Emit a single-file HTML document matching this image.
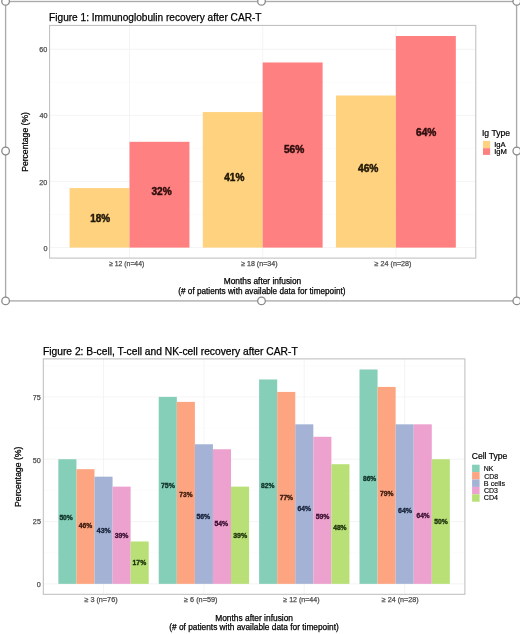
<!DOCTYPE html>
<html><head><meta charset="utf-8"><title>Figures</title>
<style>
html,body{margin:0;padding:0;background:#fff;}
body{width:520px;height:634px;overflow:hidden;font-family:"Liberation Sans",sans-serif;}
#w{width:520px;height:634px;will-change:transform;background:#fff;}
svg{display:block;}
</style></head><body><div id="w">
<svg width="520" height="634" viewBox="0 0 520 634">
<line x1="49.6" x2="475.8" y1="214.54" y2="214.54" stroke="#f9f9f9" stroke-width="0.6"/>
<line x1="49.6" x2="475.8" y1="148.42" y2="148.42" stroke="#f9f9f9" stroke-width="0.6"/>
<line x1="49.6" x2="475.8" y1="82.30" y2="82.30" stroke="#f9f9f9" stroke-width="0.6"/>
<line x1="49.6" x2="475.8" y1="247.60" y2="247.60" stroke="#f3f3f3" stroke-width="0.9"/>
<line x1="49.6" x2="475.8" y1="181.48" y2="181.48" stroke="#f3f3f3" stroke-width="0.9"/>
<line x1="49.6" x2="475.8" y1="115.36" y2="115.36" stroke="#f3f3f3" stroke-width="0.9"/>
<line x1="49.6" x2="475.8" y1="49.24" y2="49.24" stroke="#f3f3f3" stroke-width="0.9"/>
<line x1="129.51" x2="129.51" y1="25.4" y2="258.1" stroke="#f3f3f3" stroke-width="0.9"/>
<line x1="262.70" x2="262.70" y1="25.4" y2="258.1" stroke="#f3f3f3" stroke-width="0.9"/>
<line x1="395.89" x2="395.89" y1="25.4" y2="258.1" stroke="#f3f3f3" stroke-width="0.9"/>
<rect x="69.58" y="188.09" width="59.93" height="59.51" fill="#fed27f"/>
<rect x="129.51" y="141.81" width="59.93" height="105.79" fill="#ff8080"/>
<rect x="202.77" y="112.05" width="59.93" height="135.55" fill="#fed27f"/>
<rect x="262.70" y="62.46" width="59.93" height="185.14" fill="#ff8080"/>
<rect x="335.95" y="95.52" width="59.93" height="152.08" fill="#fed27f"/>
<rect x="395.89" y="36.02" width="59.93" height="211.58" fill="#ff8080"/>
<rect x="49.6" y="25.4" width="426.20" height="232.70" fill="none" stroke="#bcbcbc" stroke-width="1"/>
<line x1="43.3" x2="464.9" y1="552.69" y2="552.69" stroke="#f9f9f9" stroke-width="0.6"/>
<line x1="43.3" x2="464.9" y1="490.38" y2="490.38" stroke="#f9f9f9" stroke-width="0.6"/>
<line x1="43.3" x2="464.9" y1="428.06" y2="428.06" stroke="#f9f9f9" stroke-width="0.6"/>
<line x1="43.3" x2="464.9" y1="365.75" y2="365.75" stroke="#f9f9f9" stroke-width="0.6"/>
<line x1="43.3" x2="464.9" y1="583.85" y2="583.85" stroke="#f3f3f3" stroke-width="0.9"/>
<line x1="43.3" x2="464.9" y1="521.54" y2="521.54" stroke="#f3f3f3" stroke-width="0.9"/>
<line x1="43.3" x2="464.9" y1="459.22" y2="459.22" stroke="#f3f3f3" stroke-width="0.9"/>
<line x1="43.3" x2="464.9" y1="396.91" y2="396.91" stroke="#f3f3f3" stroke-width="0.9"/>
<line x1="103.53" x2="103.53" y1="358.9" y2="594.3" stroke="#f3f3f3" stroke-width="0.9"/>
<line x1="203.91" x2="203.91" y1="358.9" y2="594.3" stroke="#f3f3f3" stroke-width="0.9"/>
<line x1="304.29" x2="304.29" y1="358.9" y2="594.3" stroke="#f3f3f3" stroke-width="0.9"/>
<line x1="404.67" x2="404.67" y1="358.9" y2="594.3" stroke="#f3f3f3" stroke-width="0.9"/>
<rect x="58.36" y="459.22" width="18.07" height="124.63" fill="#85ceb7"/>
<rect x="76.43" y="469.19" width="18.07" height="114.66" fill="#fda481"/>
<rect x="94.49" y="476.67" width="18.07" height="107.18" fill="#a4b3d5"/>
<rect x="112.56" y="486.64" width="18.07" height="97.21" fill="#eca1cf"/>
<rect x="130.63" y="541.48" width="18.07" height="42.37" fill="#b8e076"/>
<rect x="158.74" y="396.91" width="18.07" height="186.94" fill="#85ceb7"/>
<rect x="176.81" y="401.89" width="18.07" height="181.96" fill="#fda481"/>
<rect x="194.88" y="444.26" width="18.07" height="139.59" fill="#a4b3d5"/>
<rect x="212.94" y="449.25" width="18.07" height="134.60" fill="#eca1cf"/>
<rect x="231.01" y="486.64" width="18.07" height="97.21" fill="#b8e076"/>
<rect x="259.12" y="379.46" width="18.07" height="204.39" fill="#85ceb7"/>
<rect x="277.19" y="391.92" width="18.07" height="191.93" fill="#fda481"/>
<rect x="295.26" y="424.32" width="18.07" height="159.53" fill="#a4b3d5"/>
<rect x="313.32" y="436.79" width="18.07" height="147.06" fill="#eca1cf"/>
<rect x="331.39" y="464.21" width="18.07" height="119.64" fill="#b8e076"/>
<rect x="359.50" y="369.49" width="18.07" height="214.36" fill="#85ceb7"/>
<rect x="377.57" y="386.93" width="18.07" height="196.92" fill="#fda481"/>
<rect x="395.64" y="424.32" width="18.07" height="159.53" fill="#a4b3d5"/>
<rect x="413.71" y="424.32" width="18.07" height="159.53" fill="#eca1cf"/>
<rect x="431.77" y="459.22" width="18.07" height="124.63" fill="#b8e076"/>
<rect x="43.3" y="358.9" width="421.60" height="235.40" fill="none" stroke="#bcbcbc" stroke-width="1"/>
<rect x="483" y="140.9" width="7.1" height="7.3" fill="#fed27f"/>
<rect x="483" y="148.2" width="7.1" height="6.7" fill="#ff8080"/>
<rect x="472.1" y="464.70" width="7.5" height="7.4" fill="#85ceb7"/>
<rect x="472.1" y="472.10" width="7.5" height="7.4" fill="#fda481"/>
<rect x="472.1" y="479.50" width="7.5" height="7.4" fill="#a4b3d5"/>
<rect x="472.1" y="486.90" width="7.5" height="7.4" fill="#eca1cf"/>
<rect x="472.1" y="494.30" width="7.5" height="7.4" fill="#b8e076"/>
<text x="49.09" y="20.88" font-family="Liberation Sans, sans-serif" font-size="10.30" font-weight="normal" fill="#000" stroke="#000" stroke-width="0.25" textLength="212.44" lengthAdjust="spacingAndGlyphs">Figure 1: Immunoglobulin recovery after CAR-T</text>
<text x="42.96" y="354.85" font-family="Liberation Sans, sans-serif" font-size="10.30" font-weight="normal" fill="#000" stroke="#000" stroke-width="0.25" textLength="254.70" lengthAdjust="spacingAndGlyphs">Figure 2: B-cell, T-cell and NK-cell recovery after CAR-T</text>
<text x="43.44" y="250.73" font-family="Liberation Sans, sans-serif" font-size="7.20" font-weight="normal" fill="#4d4d4d" stroke="#4d4d4d" stroke-width="0.25" textLength="4.00" lengthAdjust="spacingAndGlyphs">0</text>
<text x="39.21" y="184.84" font-family="Liberation Sans, sans-serif" font-size="7.20" font-weight="normal" fill="#4d4d4d" stroke="#4d4d4d" stroke-width="0.25" textLength="8.01" lengthAdjust="spacingAndGlyphs">20</text>
<text x="39.56" y="118.35" font-family="Liberation Sans, sans-serif" font-size="7.20" font-weight="normal" fill="#4d4d4d" stroke="#4d4d4d" stroke-width="0.25" textLength="8.01" lengthAdjust="spacingAndGlyphs">40</text>
<text x="39.25" y="51.69" font-family="Liberation Sans, sans-serif" font-size="7.20" font-weight="normal" fill="#4d4d4d" stroke="#4d4d4d" stroke-width="0.25" textLength="8.01" lengthAdjust="spacingAndGlyphs">60</text>
<text x="36.74" y="587.04" font-family="Liberation Sans, sans-serif" font-size="7.20" font-weight="normal" fill="#4d4d4d" stroke="#4d4d4d" stroke-width="0.25" textLength="4.00" lengthAdjust="spacingAndGlyphs">0</text>
<text x="32.88" y="524.18" font-family="Liberation Sans, sans-serif" font-size="7.20" font-weight="normal" fill="#4d4d4d" stroke="#4d4d4d" stroke-width="0.25" textLength="8.01" lengthAdjust="spacingAndGlyphs">25</text>
<text x="32.74" y="463.17" font-family="Liberation Sans, sans-serif" font-size="7.20" font-weight="normal" fill="#4d4d4d" stroke="#4d4d4d" stroke-width="0.25" textLength="8.01" lengthAdjust="spacingAndGlyphs">50</text>
<text x="32.76" y="399.92" font-family="Liberation Sans, sans-serif" font-size="7.20" font-weight="normal" fill="#4d4d4d" stroke="#4d4d4d" stroke-width="0.25" textLength="8.01" lengthAdjust="spacingAndGlyphs">75</text>
<text x="109.17" y="265.50" font-family="Liberation Sans, sans-serif" font-size="7.10" font-weight="normal" fill="#4d4d4d" stroke="#4d4d4d" stroke-width="0.25" textLength="35.10" lengthAdjust="spacingAndGlyphs">≥ 12 (n=44)</text>
<text x="241.18" y="265.51" font-family="Liberation Sans, sans-serif" font-size="7.10" font-weight="normal" fill="#4d4d4d" stroke="#4d4d4d" stroke-width="0.25" textLength="36.38" lengthAdjust="spacingAndGlyphs">≥ 18 (n=34)</text>
<text x="374.62" y="265.69" font-family="Liberation Sans, sans-serif" font-size="7.10" font-weight="normal" fill="#4d4d4d" stroke="#4d4d4d" stroke-width="0.25" textLength="36.84" lengthAdjust="spacingAndGlyphs">≥ 24 (n=28)</text>
<text x="84.40" y="602.03" font-family="Liberation Sans, sans-serif" font-size="7.10" font-weight="normal" fill="#4d4d4d" stroke="#4d4d4d" stroke-width="0.25" textLength="33.19" lengthAdjust="spacingAndGlyphs">≥ 3 (n=76)</text>
<text x="184.10" y="601.68" font-family="Liberation Sans, sans-serif" font-size="7.10" font-weight="normal" fill="#4d4d4d" stroke="#4d4d4d" stroke-width="0.25" textLength="33.30" lengthAdjust="spacingAndGlyphs">≥ 6 (n=59)</text>
<text x="283.31" y="601.73" font-family="Liberation Sans, sans-serif" font-size="7.10" font-weight="normal" fill="#4d4d4d" stroke="#4d4d4d" stroke-width="0.25" textLength="36.28" lengthAdjust="spacingAndGlyphs">≥ 12 (n=44)</text>
<text x="381.80" y="601.93" font-family="Liberation Sans, sans-serif" font-size="7.10" font-weight="normal" fill="#4d4d4d" stroke="#4d4d4d" stroke-width="0.25" textLength="36.82" lengthAdjust="spacingAndGlyphs">≥ 24 (n=28)</text>
<text x="223.72" y="284.21" font-family="Liberation Sans, sans-serif" font-size="8.40" font-weight="normal" fill="#000" stroke="#000" stroke-width="0.25" textLength="77.52" lengthAdjust="spacingAndGlyphs">Months after infusion</text>
<text x="178.29" y="294.48" font-family="Liberation Sans, sans-serif" font-size="8.40" font-weight="normal" fill="#000" stroke="#000" stroke-width="0.25" textLength="167.25" lengthAdjust="spacingAndGlyphs">(# of patients with available data for timepoint)</text>
<text x="215.17" y="620.56" font-family="Liberation Sans, sans-serif" font-size="8.40" font-weight="normal" fill="#000" stroke="#000" stroke-width="0.25" textLength="77.89" lengthAdjust="spacingAndGlyphs">Months after infusion</text>
<text x="169.26" y="629.93" font-family="Liberation Sans, sans-serif" font-size="8.40" font-weight="normal" fill="#000" stroke="#000" stroke-width="0.25" textLength="169.53" lengthAdjust="spacingAndGlyphs">(# of patients with available data for timepoint)</text>
<text transform="translate(28.13,171.83) rotate(-90)" x="0" y="0" font-family="Liberation Sans, sans-serif" font-size="8.50" font-weight="normal" fill="#000" stroke="#000" stroke-width="0.25" textLength="59.76" lengthAdjust="spacingAndGlyphs">Percentage (%)</text>
<text transform="translate(21.23,506.99) rotate(-90)" x="0" y="0" font-family="Liberation Sans, sans-serif" font-size="8.50" font-weight="normal" fill="#000" stroke="#000" stroke-width="0.25" textLength="60.42" lengthAdjust="spacingAndGlyphs">Percentage (%)</text>
<text x="481.97" y="135.99" font-family="Liberation Sans, sans-serif" font-size="8.40" font-weight="normal" fill="#000" stroke="#000" stroke-width="0.2" textLength="28.07" lengthAdjust="spacingAndGlyphs">Ig Type</text>
<text x="494.15" y="146.78" font-family="Liberation Sans, sans-serif" font-size="7.20" font-weight="normal" fill="#000" stroke="#000" stroke-width="0.2" textLength="11.34" lengthAdjust="spacingAndGlyphs">IgA</text>
<text x="494.26" y="153.96" font-family="Liberation Sans, sans-serif" font-size="7.20" font-weight="normal" fill="#000" stroke="#000" stroke-width="0.2" textLength="12.73" lengthAdjust="spacingAndGlyphs">IgM</text>
<text x="471.71" y="459.29" font-family="Liberation Sans, sans-serif" font-size="8.50" font-weight="normal" fill="#000" stroke="#000" stroke-width="0.2" textLength="35.67" lengthAdjust="spacingAndGlyphs">Cell Type</text>
<text x="483.79" y="471.23" font-family="Liberation Sans, sans-serif" font-size="7.20" font-weight="normal" fill="#000" stroke="#000" stroke-width="0.15" textLength="9.61" lengthAdjust="spacingAndGlyphs">NK</text>
<text x="484.23" y="478.81" font-family="Liberation Sans, sans-serif" font-size="7.20" font-weight="normal" fill="#000" stroke="#000" stroke-width="0.15" textLength="13.75" lengthAdjust="spacingAndGlyphs">CD8</text>
<text x="483.85" y="486.14" font-family="Liberation Sans, sans-serif" font-size="7.20" font-weight="normal" fill="#000" stroke="#000" stroke-width="0.15" textLength="21.24" lengthAdjust="spacingAndGlyphs">B cells</text>
<text x="483.96" y="493.11" font-family="Liberation Sans, sans-serif" font-size="7.20" font-weight="normal" fill="#000" stroke="#000" stroke-width="0.15" textLength="13.91" lengthAdjust="spacingAndGlyphs">CD3</text>
<text x="483.83" y="499.95" font-family="Liberation Sans, sans-serif" font-size="7.20" font-weight="normal" fill="#000" stroke="#000" stroke-width="0.15" textLength="14.23" lengthAdjust="spacingAndGlyphs">CD4</text>
<text x="90.21" y="221.78" font-family="Liberation Sans, sans-serif" font-size="10.20" font-weight="bold" fill="#1f1606" stroke="#1f1606" stroke-width="0.45" textLength="19.93" lengthAdjust="spacingAndGlyphs">18%</text>
<text x="151.44" y="195.09" font-family="Liberation Sans, sans-serif" font-size="10.20" font-weight="bold" fill="#2e0d0d" stroke="#2e0d0d" stroke-width="0.45" textLength="20.24" lengthAdjust="spacingAndGlyphs">32%</text>
<text x="224.23" y="181.29" font-family="Liberation Sans, sans-serif" font-size="10.20" font-weight="bold" fill="#1f1606" stroke="#1f1606" stroke-width="0.45" textLength="20.10" lengthAdjust="spacingAndGlyphs">41%</text>
<text x="283.96" y="153.10" font-family="Liberation Sans, sans-serif" font-size="10.20" font-weight="bold" fill="#2e0d0d" stroke="#2e0d0d" stroke-width="0.45" textLength="20.37" lengthAdjust="spacingAndGlyphs">56%</text>
<text x="358.02" y="171.74" font-family="Liberation Sans, sans-serif" font-size="10.20" font-weight="bold" fill="#1f1606" stroke="#1f1606" stroke-width="0.45" textLength="20.43" lengthAdjust="spacingAndGlyphs">46%</text>
<text x="416.06" y="135.71" font-family="Liberation Sans, sans-serif" font-size="10.20" font-weight="bold" fill="#2e0d0d" stroke="#2e0d0d" stroke-width="0.45" textLength="20.38" lengthAdjust="spacingAndGlyphs">64%</text>
<text x="59.38" y="520.23" font-family="Liberation Sans, sans-serif" font-size="7.00" font-weight="bold" fill="#0f3327" stroke="#0f3327" stroke-width="0.35" textLength="13.47" lengthAdjust="spacingAndGlyphs">50%</text>
<text x="78.85" y="527.85" font-family="Liberation Sans, sans-serif" font-size="7.00" font-weight="bold" fill="#3a1a0c" stroke="#3a1a0c" stroke-width="0.35" textLength="13.43" lengthAdjust="spacingAndGlyphs">46%</text>
<text x="96.75" y="533.02" font-family="Liberation Sans, sans-serif" font-size="7.00" font-weight="bold" fill="#18213a" stroke="#18213a" stroke-width="0.35" textLength="13.96" lengthAdjust="spacingAndGlyphs">43%</text>
<text x="114.66" y="538.30" font-family="Liberation Sans, sans-serif" font-size="7.00" font-weight="bold" fill="#3a0f30" stroke="#3a0f30" stroke-width="0.35" textLength="13.75" lengthAdjust="spacingAndGlyphs">39%</text>
<text x="132.62" y="564.61" font-family="Liberation Sans, sans-serif" font-size="7.00" font-weight="bold" fill="#1c300a" stroke="#1c300a" stroke-width="0.35" textLength="13.54" lengthAdjust="spacingAndGlyphs">17%</text>
<text x="160.93" y="487.63" font-family="Liberation Sans, sans-serif" font-size="7.00" font-weight="bold" fill="#0f3327" stroke="#0f3327" stroke-width="0.35" textLength="13.88" lengthAdjust="spacingAndGlyphs">75%</text>
<text x="179.32" y="496.66" font-family="Liberation Sans, sans-serif" font-size="7.00" font-weight="bold" fill="#3a1a0c" stroke="#3a1a0c" stroke-width="0.35" textLength="13.21" lengthAdjust="spacingAndGlyphs">73%</text>
<text x="196.45" y="518.89" font-family="Liberation Sans, sans-serif" font-size="7.00" font-weight="bold" fill="#18213a" stroke="#18213a" stroke-width="0.35" textLength="13.74" lengthAdjust="spacingAndGlyphs">56%</text>
<text x="214.48" y="525.62" font-family="Liberation Sans, sans-serif" font-size="7.00" font-weight="bold" fill="#3a0f30" stroke="#3a0f30" stroke-width="0.35" textLength="13.67" lengthAdjust="spacingAndGlyphs">54%</text>
<text x="233.15" y="537.90" font-family="Liberation Sans, sans-serif" font-size="7.00" font-weight="bold" fill="#1c300a" stroke="#1c300a" stroke-width="0.35" textLength="14.00" lengthAdjust="spacingAndGlyphs">39%</text>
<text x="261.06" y="487.82" font-family="Liberation Sans, sans-serif" font-size="7.00" font-weight="bold" fill="#0f3327" stroke="#0f3327" stroke-width="0.35" textLength="13.38" lengthAdjust="spacingAndGlyphs">82%</text>
<text x="279.72" y="500.43" font-family="Liberation Sans, sans-serif" font-size="7.00" font-weight="bold" fill="#3a1a0c" stroke="#3a1a0c" stroke-width="0.35" textLength="13.29" lengthAdjust="spacingAndGlyphs">77%</text>
<text x="297.42" y="511.00" font-family="Liberation Sans, sans-serif" font-size="7.00" font-weight="bold" fill="#18213a" stroke="#18213a" stroke-width="0.35" textLength="13.45" lengthAdjust="spacingAndGlyphs">64%</text>
<text x="315.64" y="519.08" font-family="Liberation Sans, sans-serif" font-size="7.00" font-weight="bold" fill="#3a0f30" stroke="#3a0f30" stroke-width="0.35" textLength="13.77" lengthAdjust="spacingAndGlyphs">59%</text>
<text x="333.15" y="530.02" font-family="Liberation Sans, sans-serif" font-size="7.00" font-weight="bold" fill="#1c300a" stroke="#1c300a" stroke-width="0.35" textLength="13.46" lengthAdjust="spacingAndGlyphs">48%</text>
<text x="362.99" y="480.80" font-family="Liberation Sans, sans-serif" font-size="7.00" font-weight="bold" fill="#0f3327" stroke="#0f3327" stroke-width="0.35" textLength="13.30" lengthAdjust="spacingAndGlyphs">86%</text>
<text x="379.91" y="496.00" font-family="Liberation Sans, sans-serif" font-size="7.00" font-weight="bold" fill="#3a1a0c" stroke="#3a1a0c" stroke-width="0.35" textLength="13.45" lengthAdjust="spacingAndGlyphs">79%</text>
<text x="398.04" y="513.15" font-family="Liberation Sans, sans-serif" font-size="7.00" font-weight="bold" fill="#18213a" stroke="#18213a" stroke-width="0.35" textLength="14.00" lengthAdjust="spacingAndGlyphs">64%</text>
<text x="416.56" y="517.99" font-family="Liberation Sans, sans-serif" font-size="7.00" font-weight="bold" fill="#3a0f30" stroke="#3a0f30" stroke-width="0.35" textLength="13.08" lengthAdjust="spacingAndGlyphs">64%</text>
<text x="434.27" y="524.20" font-family="Liberation Sans, sans-serif" font-size="7.00" font-weight="bold" fill="#1c300a" stroke="#1c300a" stroke-width="0.35" textLength="13.55" lengthAdjust="spacingAndGlyphs">50%</text>
<rect x="5.6" y="1.5" width="511.0" height="299.4" fill="none" stroke="#aaaaaa" stroke-width="1.35"/>
<circle cx="5.6" cy="1.4" r="3.8" fill="#fff" stroke="#8a8a8a" stroke-width="1.3"/>
<circle cx="261.5" cy="1.4" r="3.8" fill="#fff" stroke="#8a8a8a" stroke-width="1.3"/>
<circle cx="516.8" cy="1.4" r="3.8" fill="#fff" stroke="#8a8a8a" stroke-width="1.3"/>
<circle cx="5.6" cy="151.0" r="3.8" fill="#fff" stroke="#8a8a8a" stroke-width="1.3"/>
<circle cx="516.8" cy="151.0" r="3.8" fill="#fff" stroke="#8a8a8a" stroke-width="1.3"/>
<circle cx="5.6" cy="300.9" r="3.8" fill="#fff" stroke="#8a8a8a" stroke-width="1.3"/>
<circle cx="261.5" cy="300.9" r="3.8" fill="#fff" stroke="#8a8a8a" stroke-width="1.3"/>
<circle cx="516.8" cy="300.9" r="3.8" fill="#fff" stroke="#8a8a8a" stroke-width="1.3"/>
</svg></div></body></html>
